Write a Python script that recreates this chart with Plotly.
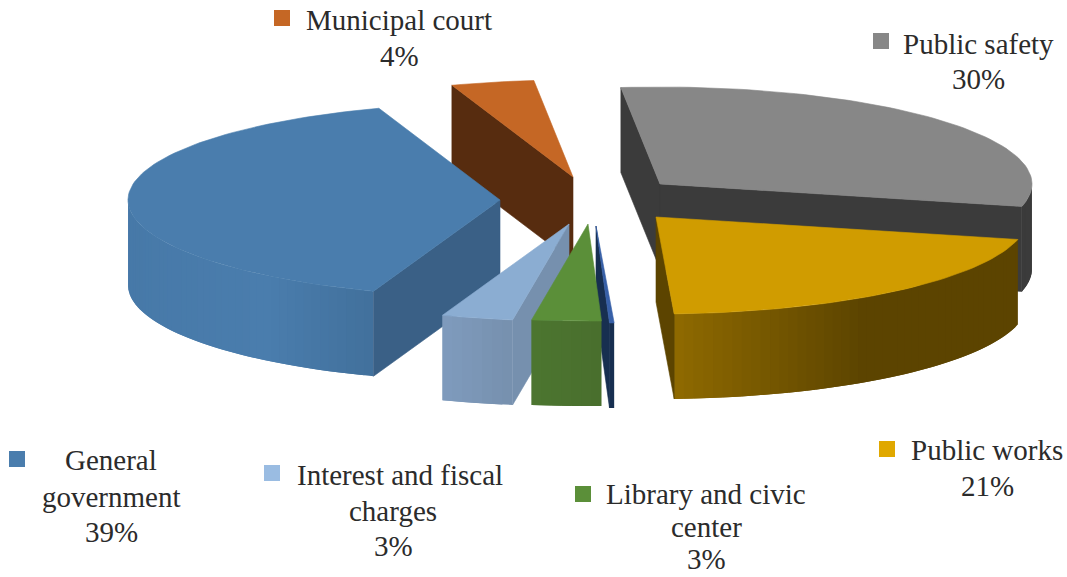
import math
import plotly.graph_objects as go

# ---- data ----
categories = ["Municipal court", "Public safety", "Public works", "Other",
              "Library and civic center", "Interest and fiscal charges", "General government"]
shares = [3.6, 30.4, 20.5, 0.2, 3.0, 3.1, 39.2]
shown_pct = ["4%", "30%", "21%", None, "3%", "3%", "39%"]

# ---- look ----
START_DEG = 109.0
RX, RY, DEPTH = 372.0, 97.0, 85.0
apex = [(573, 177), (660, 184), (656, 217), (596, 226), (588, 224), (569, 224), (500, 200)]
top_col = ["#C56725", "#878787", "#D09C00", "#3760A8", "#5B8F39", "#8BADD2", "#4A7DAD"]
radial_col = ["#572C0F", "#3B3B3B", "#5C4400", "#172F50", "#4A702E", "#7690AE", "#3A6086"]
# gradient stops on the outer wall: fraction of the screen width from left to right
wall_stops = [
    [(0, "#572C0F"), (1, "#572C0F")],
    [(0, "#3B3B3B"), (1, "#3B3B3B")],
    [(0, "#8F6A00"), (0.55, "#5C4400"), (1, "#5C4400")],
    [(0, "#172F50"), (1, "#172F50")],
    [(0, "#4C7530"), (1, "#496E2D")],
    [(0, "#7F9BBD"), (1, "#7690AE")],
    [(0, "#4779A8"), (0.55, "#4A7DAD"), (1, "#41709B")],
]
draw_order = [0, 6, 1, 2, 5, 3, 4]

# label lines: (text, centre x, y)
label_lines = {
    0: [("Municipal court", 399, 20)],
    1: [("Public safety", 978, 44)],
    2: [("Public works", 987, 450)],
    4: [("Library and civic", 706, 494), ("center", 706, 527)],
    5: [("Interest and fiscal", 400, 475), ("charges", 393, 511)],
    6: [("General", 111, 460), ("government", 111, 497)],
}
pct_pos = {0: (399, 56), 1: (978, 79), 2: (987, 486), 4: (706, 559), 5: (393, 546), 6: (111, 532)}
swatch_pos = {0: (282, 18), 1: (881, 41), 2: (887, 449), 4: (583, 494), 5: (272, 473), 6: (17, 459)}
swatch_col = {0: "#C56725", 1: "#878787", 2: "#E0A800", 4: "#5B8F39", 5: "#9ABCE2", 6: "#4A7DAD"}
FONT = "Liberation Serif"
FS = 29
TXT = "#2B2B2B"


def hex2rgb(h):
    return tuple(int(h[i:i + 2], 16) for i in (1, 3, 5))


def mix(stops, f):
    for (a, ca), (b, cb) in zip(stops, stops[1:]):
        if f <= b:
            k = 0 if b == a else (f - a) / (b - a)
            r1, r2 = hex2rgb(ca), hex2rgb(cb)
            return "rgb(%d,%d,%d)" % tuple(round(x + (y - x) * k) for x, y in zip(r1, r2))
    return stops[-1][1]


def poly(fig, xs, ys, col, edge=0.6):
    fig.add_trace(go.Scatter(x=xs + xs[:1], y=ys + ys[:1], mode="lines", fill="toself",
                             fillcolor=col, line=dict(color=col, width=edge),
                             hoverinfo="skip", showlegend=False))


def pt(c, t):
    r = math.radians(t)
    return c[0] + RX * math.cos(r), c[1] - RY * math.sin(r)


fig = go.Figure()

total = sum(shares)
edges = [START_DEG]
for s in shares:
    edges.append(edges[-1] - 360.0 * s / total)

for i in draw_order:
    c = apex[i]
    t1, t2 = edges[i], edges[i + 1]
    # outer wall, front half only; each strip overlaps the next one so no seams show
    n = max(2, int(abs(t1 - t2) / 1.5))
    ts = [t1 + (t2 - t1) * k / n for k in range(n + 1)]
    xs_all = [pt(c, t)[0] for t in ts]
    lo, hi = min(xs_all), max(xs_all)
    front = [t for t in ts if math.sin(math.radians(t)) < 0.01]
    for k in range(len(front) - 1):
        a = front[k]
        b = front[min(k + 2, len(front) - 1)]
        mid = front[k + 1]
        arc = [a + (b - a) * j / 4 for j in range(5)]
        top = [pt(c, t) for t in arc]
        f = ((pt(c, a)[0] + pt(c, mid)[0]) / 2 - lo) / max(hi - lo, 1e-6)
        poly(fig, [p[0] for p in top] + [p[0] for p in reversed(top)],
             [p[1] for p in top] + [p[1] + DEPTH for p in reversed(top)],
             mix(wall_stops[i], f), edge=0)
    # radial walls turned towards the viewer
    for t, vis in ((t1, math.cos(math.radians(t1)) < 0), (t2, math.cos(math.radians(t2)) > 0)):
        if vis:
            x, y = pt(c, t)
            poly(fig, [c[0], x, x, c[0]], [c[1], y, y + DEPTH, c[1] + DEPTH], radial_col[i])
    # top face
    px = [c[0]] + [pt(c, t)[0] for t in ts]
    py = [c[1]] + [pt(c, t)[1] for t in ts]
    poly(fig, px, py, top_col[i])

# swatches
for i, (x, y) in swatch_pos.items():
    fig.add_trace(go.Scatter(x=[x], y=[y], mode="markers",
                             marker=dict(symbol="square", size=16, color=swatch_col[i]),
                             hoverinfo="skip", showlegend=False))

# labels
for i, lines in label_lines.items():
    for text, x, y in lines:
        fig.add_annotation(x=x, y=y, text=text, showarrow=False, xanchor="center", yanchor="middle",
                           font=dict(family=FONT, size=FS, color=TXT))
    x, y = pct_pos[i]
    fig.add_annotation(x=x, y=y, text=shown_pct[i], showarrow=False, xanchor="center", yanchor="middle",
                       font=dict(family=FONT, size=FS, color=TXT))

fig.update_layout(width=1067, height=577, margin=dict(l=0, r=0, t=0, b=0),
                  paper_bgcolor="white", plot_bgcolor="white", showlegend=False)
fig.update_xaxes(range=[0, 1067], visible=False, fixedrange=True)
fig.update_yaxes(range=[577, 0], visible=False, fixedrange=True)
fig.write_html("out.html", post_script="document.body.style.margin='0';",
               config={"displayModeBar": False})
